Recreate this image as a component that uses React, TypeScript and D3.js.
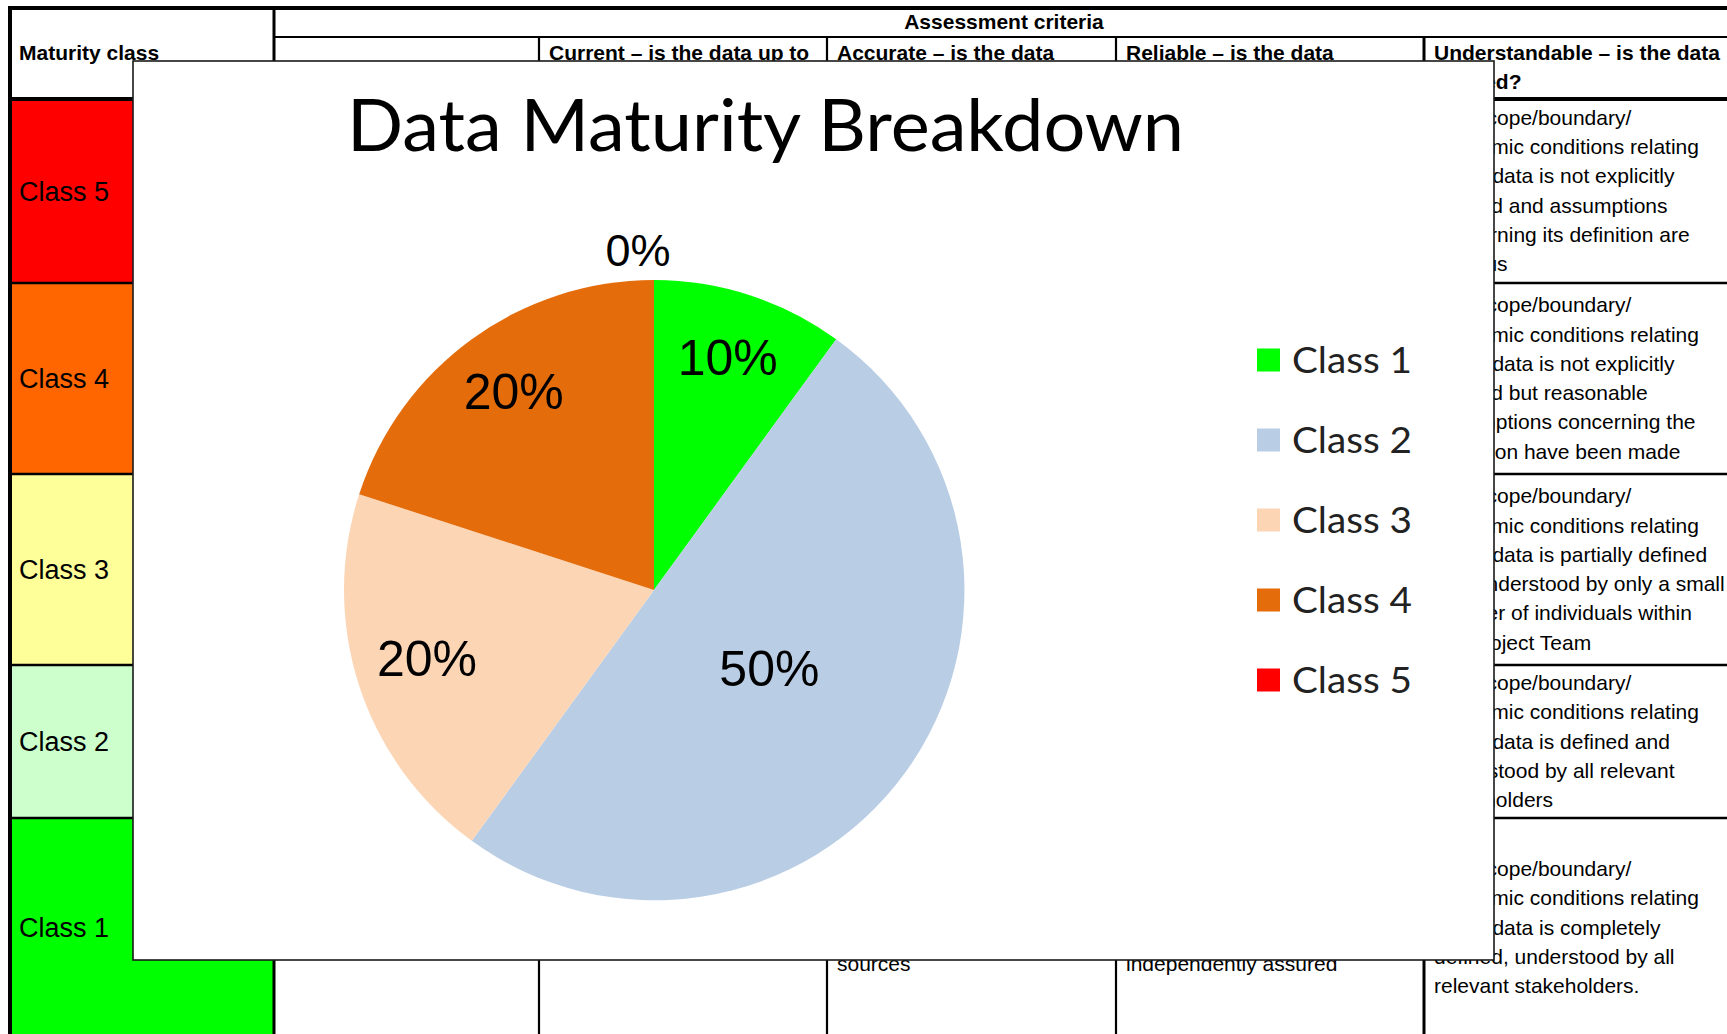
import React, { useRef, useEffect } from 'react';
import * as d3 from 'd3';

const W = 1727;
const H = 1034;

// pie chart data
const pieClasses = ['Class 1', 'Class 2', 'Class 3', 'Class 4', 'Class 5'];
const pieShares = [10, 50, 20, 20, 0];
const pieColors = ['#00FF00', '#B9CDE5', '#FCD5B5', '#E46C0A', '#FF0000'];

// background table
const tableClasses = ['Class 5', 'Class 4', 'Class 3', 'Class 2', 'Class 1'];
const tableClassColors = ['#FF0000', '#FF6600', '#FFFF99', '#CCFFCC', '#00FF00'];
const criteriaHeaders = ['', 'Current – is the data up to', 'Accurate – is the data', 'Reliable – is the data', 'Understandable – is the data'];
const understandableHeader2 = 'defined?';
const understandableText = [
  ['The scope/boundary/', 'economic conditions relating', 'to the data is not explicitly', 'defined and assumptions', 'concerning its definition are', 'dubious'],
  ['The scope/boundary/', 'economic conditions relating', 'to the data is not explicitly', 'defined but reasonable', 'assumptions concerning the', 'definition have been made'],
  ['The scope/boundary/', 'economic conditions relating', 'to the data is partially defined', 'and understood by only a small', 'number of individuals within', 'the Project Team'],
  ['The scope/boundary/', 'economic conditions relating', 'to the data is defined and', 'understood by all relevant', 'stakeholders'],
  ['The scope/boundary/', 'economic conditions relating', 'to the data is completely', 'defined, understood by all', 'relevant stakeholders.'],
];
const accurateClass1 = ['Data is verified and', 'validated against', 'multiple independent', 'sources'];
const reliableClass1 = ['Data is fully traceable,', 'audited and', 'independently assured'];

const ARIAL = '"Liberation Sans", Arial, sans-serif';
const CALIBRI = 'Lato, "Open Sans", sans-serif';

const App = () => {
  const svgRef = useRef(null);

  useEffect(() => {
    if (!svgRef.current) return;
    const svg = d3.select(svgRef.current);
    svg.selectAll('*').remove();

    // ---------- table ----------
    const colX = [10, 274, 539, 827, 1116, 1424, 1734];
    const rowY = [99, 283, 474, 665, 818, 1037];
    const headTop = 8;
    const headMid = 37;
    const lineH = 29.3;

    svg.append('rect').attr('width', W).attr('height', H).attr('fill', '#fff');

    const table = svg.append('g');

    table.selectAll('rect.cls')
      .data(tableClasses)
      .join('rect')
      .attr('x', colX[0])
      .attr('y', (d, i) => rowY[i])
      .attr('width', colX[1] - colX[0])
      .attr('height', (d, i) => rowY[i + 1] - rowY[i])
      .attr('fill', (d, i) => tableClassColors[i]);

    table.selectAll('text.cls')
      .data(tableClasses)
      .join('text')
      .attr('x', 19)
      .attr('y', (d, i) => (rowY[i] + rowY[i + 1]) / 2 + 9.5)
      .style('font-family', ARIAL)
      .style('font-size', '27px')
      .attr('fill', '#000')
      .text(d => d);

    const hLine = (y, x1, x2, w) => table.append('line')
      .attr('x1', x1).attr('x2', x2).attr('y1', y).attr('y2', y)
      .attr('stroke', '#000').attr('stroke-width', w);
    const vLine = (x, y1, y2, w) => table.append('line')
      .attr('x1', x).attr('x2', x).attr('y1', y1).attr('y2', y2)
      .attr('stroke', '#000').attr('stroke-width', w);

    hLine(headTop, colX[0] - 2, colX[6], 4);
    hLine(headMid, colX[1], colX[6], 2);
    hLine(rowY[0], colX[0], colX[6], 4);
    rowY.slice(1, 5).forEach(y => hLine(y, colX[0], colX[6], 2.5));
    vLine(colX[0], headTop - 2, H, 4);
    vLine(colX[1], headTop, H, 3);
    colX.slice(2, 5).forEach(x => vLine(x, headMid, H, 2.2));
    vLine(colX[5], headMid, H, 3);

    // header text
    const head = table.append('g')
      .style('font-family', ARIAL)
      .style('font-weight', 'bold')
      .style('font-size', '21px')
      .attr('fill', '#000');
    head.append('text').attr('x', 19).attr('y', 60).text('Maturity class');
    head.append('text').attr('x', (colX[1] + colX[6]) / 2).attr('y', 29)
      .attr('text-anchor', 'middle').text('Assessment criteria');
    head.selectAll('text.crit')
      .data(criteriaHeaders)
      .join('text')
      .attr('x', (d, i) => colX[i + 1] + 10)
      .attr('y', 60)
      .text(d => d);
    head.append('text').attr('x', colX[5] + 10).attr('y', 60 + lineH).text(understandableHeader2);

    // cell text
    const body = table.append('g')
      .style('font-family', ARIAL)
      .style('font-size', '21px')
      .attr('fill', '#000');
    understandableText.forEach((lines, r) => {
      const mid = (rowY[r] + rowY[r + 1]) / 2;
      body.selectAll(null)
        .data(lines)
        .join('text')
        .attr('x', colX[5] + 10)
        .attr('y', (d, i) => mid + (i - (lines.length - 1) / 2) * lineH + 7)
        .text(d => d);
    });
    [[accurateClass1, colX[3]], [reliableClass1, colX[4]]].forEach(([lines, x]) => {
      body.selectAll(null)
        .data(lines)
        .join('text')
        .attr('x', x + 10)
        .attr('y', (d, i) => 971 - (lines.length - 1 - i) * lineH)
        .text(d => d);
    });

    // ---------- chart overlay ----------
    const chart = svg.append('g');
    chart.append('rect')
      .attr('x', 133).attr('y', 61)
      .attr('width', 1361).attr('height', 899)
      .attr('fill', '#fff')
      .attr('stroke', '#1a1a1a')
      .attr('stroke-width', 1.6);

    chart.append('text')
      .attr('x', 347).attr('y', 151)
      .attr('textLength', 837)
      .attr('lengthAdjust', 'spacingAndGlyphs')
      .style('font-family', CALIBRI)
      .style('font-size', '72px')
      .attr('fill', '#000')
      .text('Data Maturity Breakdown');

    const data = pieClasses.map((c, i) => ({ name: c, share: pieShares[i], color: pieColors[i] }));
    const cx = 654, cy = 590, radius = 310;
    const pie = d3.pie().sort(null).value(d => d.share);
    const arcs = pie(data);
    const arcGen = d3.arc().innerRadius(0).outerRadius(radius);

    const pg = chart.append('g').attr('transform', `translate(${cx},${cy})`);
    pg.selectAll('path')
      .data(arcs.filter(d => d.data.share > 0))
      .join('path')
      .attr('d', arcGen)
      .attr('fill', d => d.data.color);

    pg.selectAll('text')
      .data(arcs)
      .join('text')
      .attr('transform', d => {
        if (d.data.share === 0) {
          const a = d.startAngle;
          return `translate(${Math.sin(a) * (radius + 30) - 16},${-Math.cos(a) * (radius + 30)})`;
        }
        const f = d.data.share >= 50 ? 0.46 : 0.77;
        const lab = d3.arc().innerRadius(radius * f).outerRadius(radius * f);
        return `translate(${lab.centroid(d)})`;
      })
      .attr('text-anchor', 'middle')
      .attr('dy', d => (d.data.share === 0 ? '0.36em' : '0.25em'))
      .style('font-family', ARIAL)
      .style('font-size', d => (d.data.share === 0 ? '45px' : '50px'))
      .attr('fill', '#000')
      .text(d => `${d.data.share}%`);

    // legend
    const legend = chart.append('g');
    const ly = d3.scalePoint().domain(pieClasses).range([360, 680]);
    legend.selectAll('rect')
      .data(data)
      .join('rect')
      .attr('x', 1257)
      .attr('y', d => ly(d.name) - 11.5)
      .attr('width', 23).attr('height', 23)
      .attr('fill', d => d.color);
    legend.selectAll('text')
      .data(data)
      .join('text')
      .attr('x', 1292)
      .attr('y', d => ly(d.name) + 13)
      .attr('textLength', 120)
      .attr('lengthAdjust', 'spacingAndGlyphs')
      .style('font-family', CALIBRI)
      .style('font-size', '37px')
      .attr('fill', '#222')
      .text(d => d.name);
  }, []);

  return (
    <svg
      ref={svgRef}
      width={W}
      height={H}
      style={{ position: 'absolute', left: 0, top: 0, display: 'block' }}
    />
  );
};

export default App;
